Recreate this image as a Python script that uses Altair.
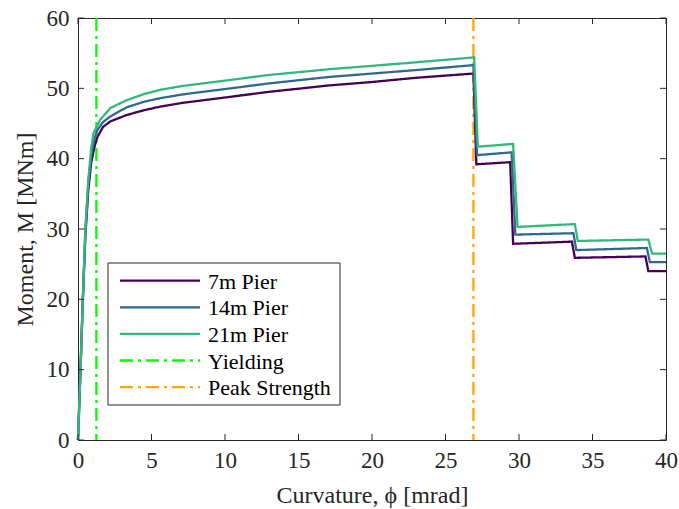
import altair as alt
import pandas as pd

series_names = ["7m Pier", "14m Pier", "21m Pier", "Yielding", "Peak Strength"]
series_colors = ["#440154", "#31688e", "#35b779", "#00ff00", "#ffa500"]

x7 = [0, 0.17, 0.33, 0.5, 0.7, 0.9, 1.1, 1.3, 1.7, 2.2, 3.3, 4.5, 5.6, 7, 10, 13, 17, 20, 23, 26.9,
      27.1, 29.4, 29.6, 33.6, 33.8, 38.6, 38.8, 40]
y7 = [0, 10, 20, 29, 35.5, 39.5, 41.5, 43.0, 44.5, 45.3, 46.2, 46.9, 47.4, 47.9, 48.7, 49.5, 50.4, 50.9, 51.5, 52.1,
      39.2, 39.5, 27.9, 28.2, 25.9, 26.1, 24.0, 24.0]

x14 = [0, 0.17, 0.33, 0.5, 0.7, 0.9, 1.1, 1.3, 1.7, 2.2, 3.3, 4.5, 5.6, 7, 10, 13, 17, 20, 23, 26.9,
       27.15, 29.5, 29.75, 33.7, 33.9, 38.7, 38.9, 40]
y14 = [0, 10, 20, 29.5, 36.5, 40.5, 42.6, 44.0, 45.2, 46.0, 47.3, 48.1, 48.6, 49.1, 49.9, 50.7, 51.6, 52.1, 52.6, 53.3,
       40.5, 40.9, 29.2, 29.4, 27.0, 27.3, 25.3, 25.3]

x21 = [0, 0.17, 0.33, 0.5, 0.7, 0.9, 1.05, 1.5, 2.2, 3.3, 4.5, 5.6, 7, 10, 13, 17, 20, 23, 26.95,
       27.2, 29.6, 29.9, 33.8, 34.0, 38.8, 39.05, 40]
y21 = [0, 10, 20, 30, 37.0, 41.5, 43.6, 45.5, 47.2, 48.3, 49.2, 49.8, 50.3, 51.1, 51.9, 52.7, 53.2, 53.7, 54.4,
       41.7, 42.1, 30.3, 30.7, 28.3, 28.5, 26.5, 26.5]

yield_x = 1.25
peak_x = 26.9

x_ticks = [0, 5, 10, 15, 20, 25, 30, 35, 40]
y_ticks = [0, 10, 20, 30, 40, 50, 60]

rows = []
for name, xs, ys in [("7m Pier", x7, y7), ("14m Pier", x14, y14), ("21m Pier", x21, y21)]:
    for i, (a, b) in enumerate(zip(xs, ys)):
        rows.append({"series": name, "x": a, "y": b, "order": i})
curves = pd.DataFrame(rows)
vlines = pd.DataFrame({"series": ["Yielding", "Peak Strength"], "x": [yield_x, peak_x]})
xt = pd.DataFrame({"t": x_ticks})
yt = pd.DataFrame({"t": y_ticks})
leg = pd.DataFrame({"series": series_names, "idx": list(range(len(series_names)))})

W, H = 588, 422
FONT = "Liberation Serif"
TXT = "#262626"
dash_range = [[1, 0], [1, 0], [1, 0], [13, 5, 3, 5], [13, 5, 3, 5]]

xscale = alt.Scale(domain=[0, 40], nice=False, zero=False)
yscale = alt.Scale(domain=[0, 60], nice=False, zero=False)

color_enc = alt.Color("series:N", scale=alt.Scale(domain=series_names, range=series_colors), legend=None)
dash_enc = alt.StrokeDash("series:N", scale=alt.Scale(domain=series_names, range=dash_range), legend=None)

x_enc = alt.X("x:Q", scale=xscale,
              axis=alt.Axis(values=x_ticks, title="Curvature, ϕ [mrad]", grid=False, ticks=False,
                            domain=False, labelPadding=9, titlePadding=11, labelFlush=False))
y_enc = alt.Y("y:Q", scale=yscale,
              axis=alt.Axis(values=y_ticks, title="Moment, M [MNm]", grid=False, ticks=False,
                            domain=False, labelPadding=9, titlePadding=9, labelFlush=False))

lines = alt.Chart(curves).mark_line(strokeWidth=2.3).encode(
    x=x_enc, y=y_enc, color=color_enc, strokeDash=dash_enc, order="order:Q")

rules = alt.Chart(vlines).mark_rule(strokeWidth=2.3).encode(
    x=alt.X("x:Q", scale=xscale), color=color_enc, strokeDash=dash_enc)

tick_color = "#262626"
xb = alt.Chart(xt).mark_rule(color=tick_color, strokeWidth=1).encode(
    x=alt.X("t:Q", scale=xscale), y=alt.value(H), y2=alt.value(H - 6))
xtp = alt.Chart(xt).mark_rule(color=tick_color, strokeWidth=1).encode(
    x=alt.X("t:Q", scale=xscale), y=alt.value(0), y2=alt.value(6))
yl = alt.Chart(yt).mark_rule(color=tick_color, strokeWidth=1).encode(
    y=alt.Y("t:Q", scale=yscale), x=alt.value(0), x2=alt.value(6))
yr = alt.Chart(yt).mark_rule(color=tick_color, strokeWidth=1).encode(
    y=alt.Y("t:Q", scale=yscale), x=alt.value(W), x2=alt.value(W - 6))

# custom legend (box, line samples, labels)
leg_box = alt.Chart(leg).transform_filter("datum.idx == 0").mark_rect(
    fill="#ffffff", stroke=tick_color, strokeWidth=1).encode(
    x=alt.value(30), x2=alt.value(262), y=alt.value(245), y2=alt.value(387))
leg_base = alt.Chart(leg).transform_calculate(py="262.7 + datum.idx * 26.6")
leg_lines = leg_base.mark_rule(strokeWidth=2.3).encode(
    x=alt.value(42), x2=alt.value(122), y=alt.Y("py:Q", scale=None),
    color=color_enc, strokeDash=dash_enc)
leg_text = leg_base.mark_text(align="left", baseline="middle", font=FONT, fontSize=22,
                              color="#000000", dy=1).encode(
    x=alt.value(130), y=alt.Y("py:Q", scale=None), text="series:N")

chart = alt.layer(rules, lines, xb, xtp, yl, yr, leg_box, leg_lines, leg_text).properties(
    width=W, height=H,
    background="#ffffff",
    autosize=alt.AutoSizeParams(type="none"),
    padding={"left": 78, "top": 18, "right": 13, "bottom": 69},
).configure_view(stroke=tick_color, strokeWidth=1).configure_axis(
    labelFont=FONT, labelFontSize=23, labelColor=TXT,
    titleFont=FONT, titleFontSize=24, titleColor=TXT, titleFontWeight="normal",
)

chart.save("out.html", embed_options={"renderer": "svg", "actions": False})
